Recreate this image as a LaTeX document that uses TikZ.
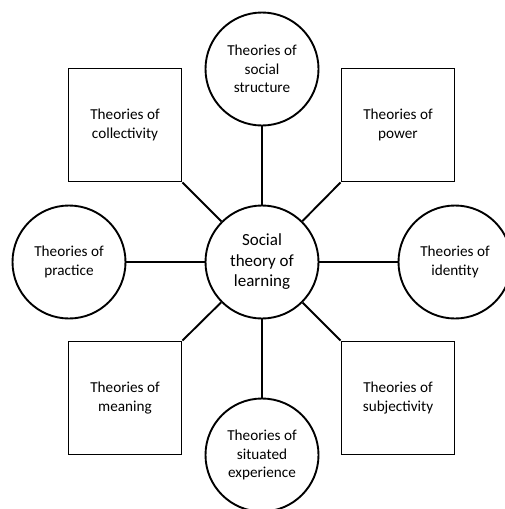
\documentclass[tikz,border=0pt]{standalone}
\usepackage{fontspec}
\setmainfont{Carlito}
\usetikzlibrary{positioning}
\tikzset{
    theory/.style={draw,circle,line width=1.9pt,minimum size=113pt,inner sep=0pt,
        align=center,font=\fontsize{15.2}{18.5}\selectfont},
    theorybox/.style={draw,rectangle,line width=1.9pt,minimum size=113pt,inner sep=0pt,
        align=center,font=\fontsize{15.2}{18.5}\selectfont},
    link/.style={line width=1.9pt}
}
\begin{document}
\begin{tikzpicture}[x=1pt,y=-1pt]
        %% Frame
        \useasboundingbox (0,0) rectangle (505,509);
        \clip (0,0) rectangle (505,509);

        %% Hub
        \node[theory,font=\fontsize{17}{20.5}\selectfont] (hub) at (262,262) {Social\\theory of\\learning};

        %% Circles
        \node[theory] (structure) at (262,69) {Theories of\\social\\structure};
        \node[theory] (practice) at (69,262) {Theories of\\practice};
        \node[theory] (identity) at (455,262) {Theories of\\identity};
        \node[theory] (experience) at (262,455) {Theories of\\situated\\experience};

        %% Squares
        \node[theorybox] (collectivity) at (125,125) {Theories of\\collectivity};
        \node[theorybox] (power) at (398,125) {Theories of\\power};
        \node[theorybox] (meaning) at (125,398) {Theories of\\meaning};
        \node[theorybox] (subjectivity) at (398,398) {Theories of\\subjectivity};

        %% Links
        \draw[link] (hub) -- (structure);
        \draw[link] (hub) -- (practice);
        \draw[link] (hub) -- (identity);
        \draw[link] (hub) -- (experience);
        \draw[link] (hub) -- (collectivity.south east);
        \draw[link] (hub) -- (power.south west);
        \draw[link] (hub) -- (meaning.north east);
        \draw[link] (hub) -- (subjectivity.north west);
    \end{tikzpicture}
\end{document}
